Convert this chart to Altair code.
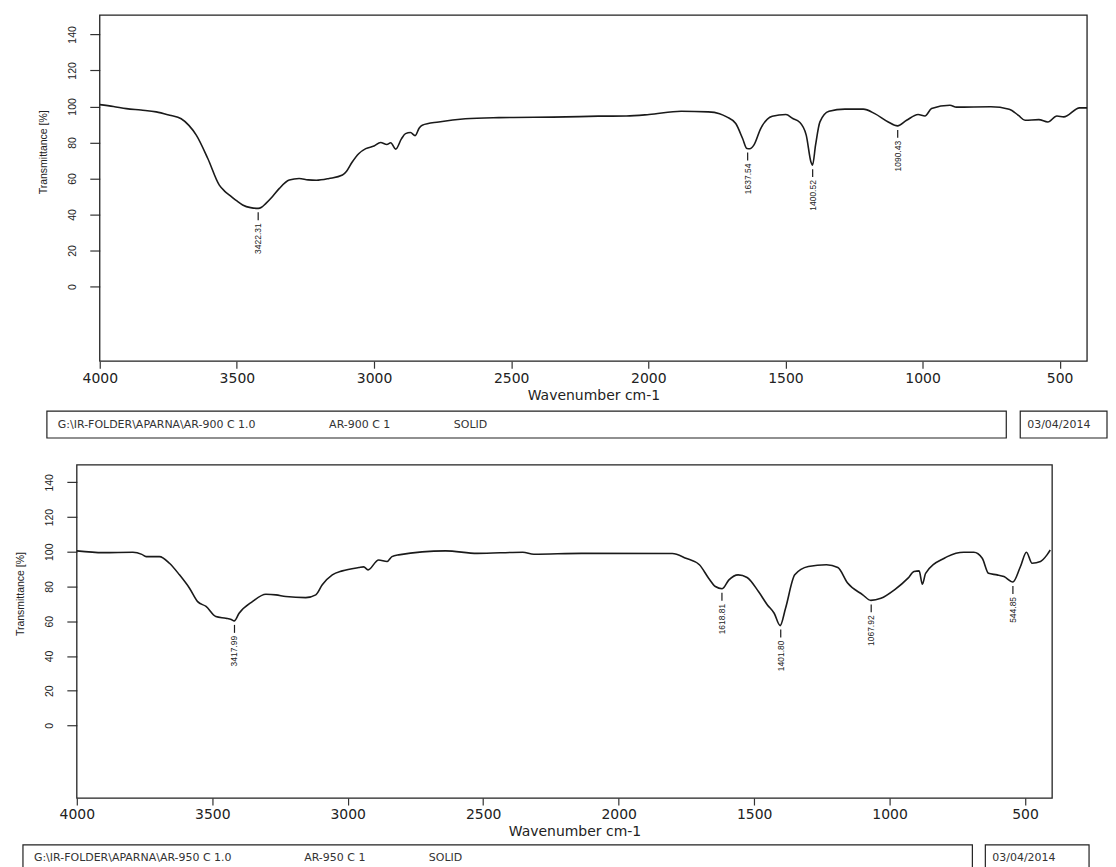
import altair as alt
import pandas as pd

# ---------------- data ----------------
# AR-900 C spectrum (wavenumber cm-1, transmittance %)
wn_900 = [4000, 3950, 3903, 3850, 3794, 3745, 3703, 3675, 3648, 3606, 3564, 3545, 3527, 3500,
          3479, 3450, 3422, 3410, 3394, 3370, 3345, 3309, 3273, 3240, 3210, 3164, 3115, 3100,
          3080, 3055, 3030, 3000, 2976, 2953, 2939, 2921, 2900, 2885, 2867, 2850, 2835, 2824,
          2764, 2667, 2545, 2300, 2182, 2080, 1997, 1880, 1781, 1740, 1714, 1681, 1656, 1640,
          1630, 1615, 1590, 1548, 1498, 1473, 1449, 1424, 1407, 1401, 1390, 1374, 1341, 1283,
          1216, 1174, 1125, 1091, 1058, 1016, 991, 967, 900, 876, 751, 684, 650, 626, 576, 543,
          510, 485, 427, 400]
t_900 = [101.0, 100.0, 98.8, 98.0, 97.0, 95.1, 93.2, 89.5, 84.1, 71.1, 56.3, 53.0, 50.8, 47.5,
         45.3, 43.8, 43.4, 44.0, 46.2, 50.0, 54.5, 59.1, 60.0, 59.2, 59.0, 60.0, 61.9, 64.0,
         69.0, 73.9, 76.6, 78.0, 80.0, 78.9, 79.8, 76.3, 82.0, 84.9, 85.5, 83.8, 88.0, 89.6,
         91.4, 93.2, 93.8, 94.2, 94.6, 94.7, 95.5, 97.3, 97.0, 96.0, 94.2, 90.5, 82.2, 76.6,
         76.5, 78.5, 87.7, 94.5, 95.5, 93.3, 91.4, 84.1, 69.3, 67.4, 78.5, 91.4, 97.3, 98.5,
         98.5, 96.0, 91.4, 89.2, 92.3, 95.5, 94.7, 98.8, 100.7, 99.6, 99.8, 98.5, 95.0, 92.3,
         92.7, 91.4, 94.7, 94.2, 99.2, 99.2]
peak_wn_900 = [3422.31, 1637.54, 1400.52, 1090.43]
peak_t_900 = [43.4, 76.6, 67.4, 89.2]
peak_lab_900 = ["3422.31", "1637.54", "1400.52", "1090.43"]

# AR-950 C spectrum
wn_950 = [4000, 3903, 3793, 3760, 3744, 3695, 3658, 3621, 3584, 3554, 3523, 3487, 3450, 3430,
          3419, 3401, 3352, 3302, 3265, 3229, 3155, 3118, 3094, 3057, 3020, 2959, 2941, 2925,
          2886, 2855, 2837, 2812, 2639, 2522, 2354, 2313, 2137, 1802, 1752, 1702, 1668, 1643,
          1618, 1593, 1559, 1526, 1484, 1451, 1426, 1404, 1384, 1350, 1300, 1233, 1191, 1155,
          1099, 1069, 1032, 982, 932, 910, 891, 879, 867, 798, 787, 726, 689, 658, 635, 603,
          578, 545, 517, 495, 474, 443, 419, 407]
t_950 = [100.5, 99.5, 99.7, 98.5, 97.2, 97.2, 93.4, 86.7, 79.0, 71.3, 68.5, 62.7, 61.7, 61.0,
         60.2, 64.6, 71.3, 75.5, 75.2, 74.2, 73.6, 75.2, 81.0, 86.7, 89.0, 90.9, 91.3, 89.6,
         95.3, 94.4, 97.2, 98.2, 100.5, 99.1, 99.7, 98.6, 99.1, 99.0, 96.3, 92.5, 84.8, 80.0,
         78.7, 83.8, 86.7, 85.2, 77.1, 69.4, 64.6, 57.5, 67.5, 86.7, 91.5, 92.5, 90.9, 82.0,
         75.2, 72.0, 73.2, 78.1, 84.8, 88.6, 89.0, 81.3, 87.6, 96.3, 97.2, 99.7, 99.7, 96.3,
         87.6, 86.7, 85.7, 82.6, 91.5, 99.7, 93.4, 94.4, 98.2, 101.0]
peak_wn_950 = [3417.99, 1618.81, 1401.80, 1067.92, 544.85]
peak_t_950 = [60.2, 78.7, 57.5, 72.0, 82.6]
peak_lab_950 = ["3417.99", "1618.81", "1401.80", "1067.92", "544.85"]

x_ticks = [4000, 3500, 3000, 2500, 2000, 1500, 1000, 500]
y_ticks = [0, 20, 40, 60, 80, 100, 120, 140]
x_title = "Wavenumber cm-1"
y_title = "Transmittance [%]"
footer_900 = ["G:\\IR-FOLDER\\APARNA\\AR-900 C 1.0", "AR-900 C 1", "SOLID"]
footer_950 = ["G:\\IR-FOLDER\\APARNA\\AR-950 C 1.0", "AR-950 C 1", "SOLID"]
date_text = "03/04/2014"

# ---------------- styling ----------------
AX_FONT = "DejaVu Sans"
Y_FONT = "Liberation Sans"
PK_FONT = "Liberation Sans Narrow, Liberation Sans"
INK = "#1a1a1a"


def make_panel(wn, t, pk_wn, pk_t, pk_lab, footer, cfg):
    W, H, x0 = cfg["W"], cfg["H"], cfg["x0"]
    xs = alt.Scale(domain=[4000, 400], range=[x0, W], nice=False, zero=False)
    ys = alt.Scale(domain=cfg["ydom"], nice=False, zero=False)
    xaxis = alt.Axis(values=x_ticks, format="d", title=x_title, domain=False, grid=False,
                     tickSize=7, tickColor="#333", tickWidth=1.2,
                     labelPadding=3, labelFont=AX_FONT, labelFontSize=14, labelColor="#222",
                     labelFlush=False, labelOverlap=False,
                     titleFont=AX_FONT, titleFontSize=14, titleFontWeight="normal",
                     titleColor="#222", titlePadding=3, titleX=cfg["tx"])
    yaxis = alt.Axis(values=y_ticks, format="d", title=y_title, domain=False, grid=False,
                     offset=cfg["yoff"], tickSize=10, tickColor="#333", tickWidth=1.2,
                     labelAngle=270, labelAlign="center", labelBaseline="bottom",
                     labelPadding=12, labelFont=Y_FONT, labelFontSize=10.5, labelColor="#222",
                     labelOverlap=False,
                     titleFont=Y_FONT, titleFontSize=10.5, titleFontWeight="normal",
                     titleColor="#222", titlePadding=19, titleY=cfg["ty"])
    X = alt.X("wn:Q", scale=xs, axis=xaxis)
    Y = alt.Y("t:Q", scale=ys, axis=yaxis)

    df = pd.DataFrame({"wn": wn, "t": t})
    pk = pd.DataFrame({"wn": pk_wn, "t": pk_t, "lab": pk_lab})
    one = pd.DataFrame({"k": [0]})

    line = alt.Chart(df).mark_line(color=INK, strokeWidth=1.6, interpolate="monotone").encode(x=X, y=Y)
    ticks = alt.Chart(pk).mark_rule(color=INK, strokeWidth=1.2, yOffset=4, y2Offset=12).encode(
        x=X, y=Y, y2=alt.Y2("t:Q"))
    labels = alt.Chart(pk).mark_text(angle=270, align="right", baseline="middle", yOffset=15,
                                     font=PK_FONT, fontSize=8.5, color="#222").encode(
        x=X, y=Y, text="lab:N")
    frame = alt.Chart(one).mark_rect(fillOpacity=0, stroke="#222", strokeWidth=1.3).encode(
        x=alt.value(x0), x2=alt.value(W), y=alt.value(0), y2=alt.value(H))

    fb = cfg["foot"]
    box1 = alt.Chart(one).mark_rect(fillOpacity=0, stroke="#222", strokeWidth=1.2).encode(
        x=alt.value(fb["bx1"]), x2=alt.value(fb["bx2"]), y=alt.value(fb["by1"]), y2=alt.value(fb["by2"]))
    box2 = alt.Chart(one).mark_rect(fillOpacity=0, stroke="#222", strokeWidth=1.2).encode(
        x=alt.value(fb["dx1"]), x2=alt.value(fb["dx2"]), y=alt.value(fb["by1"]), y2=alt.value(fb["by2"]))
    layers = [frame, line, ticks, labels, box1, box2]
    for txt, xp in zip(footer + [date_text], fb["tx"]):
        layers.append(alt.Chart(one).mark_text(align="left", baseline="middle", font=AX_FONT,
                                               fontSize=11, color="#333").encode(
            x=alt.value(xp), y=alt.value(fb["ty"]), text=alt.value(txt)))
    return alt.layer(*layers).properties(width=W, height=H)


cfg1 = dict(W=1013, H=347, x0=23, ydom=[-41.5, 150.7], yoff=-23, ty=137, tx=518,
            foot=dict(bx1=-30, bx2=932, dx1=946, dx2=1033, by1=397, by2=424, ty=411,
                      tx=[-19, 253, 378, 953]))
cfg2 = dict(W=978, H=334, x0=0, ydom=[-41.8, 150.0], yoff=0, ty=129, tx=499,
            foot=dict(bx1=-54, bx2=898, dx1=911, dx2=1015, by1=381, by2=410, ty=394,
                      tx=[-43, 228, 353, 918]))

p1 = make_panel(wn_900, t_900, peak_wn_900, peak_t_900, peak_lab_900, footer_900, cfg1)
p2 = make_panel(wn_950, t_950, peak_wn_950, peak_t_950, peak_lab_950, footer_950, cfg2)

chart = alt.vconcat(p1, p2, spacing=25).properties(
    padding={"left": 7, "top": 5, "right": 0, "bottom": 0}, background="white"
).configure_view(strokeOpacity=0)

chart.save("out.html", embed_options={"renderer": "svg", "actions": False})
